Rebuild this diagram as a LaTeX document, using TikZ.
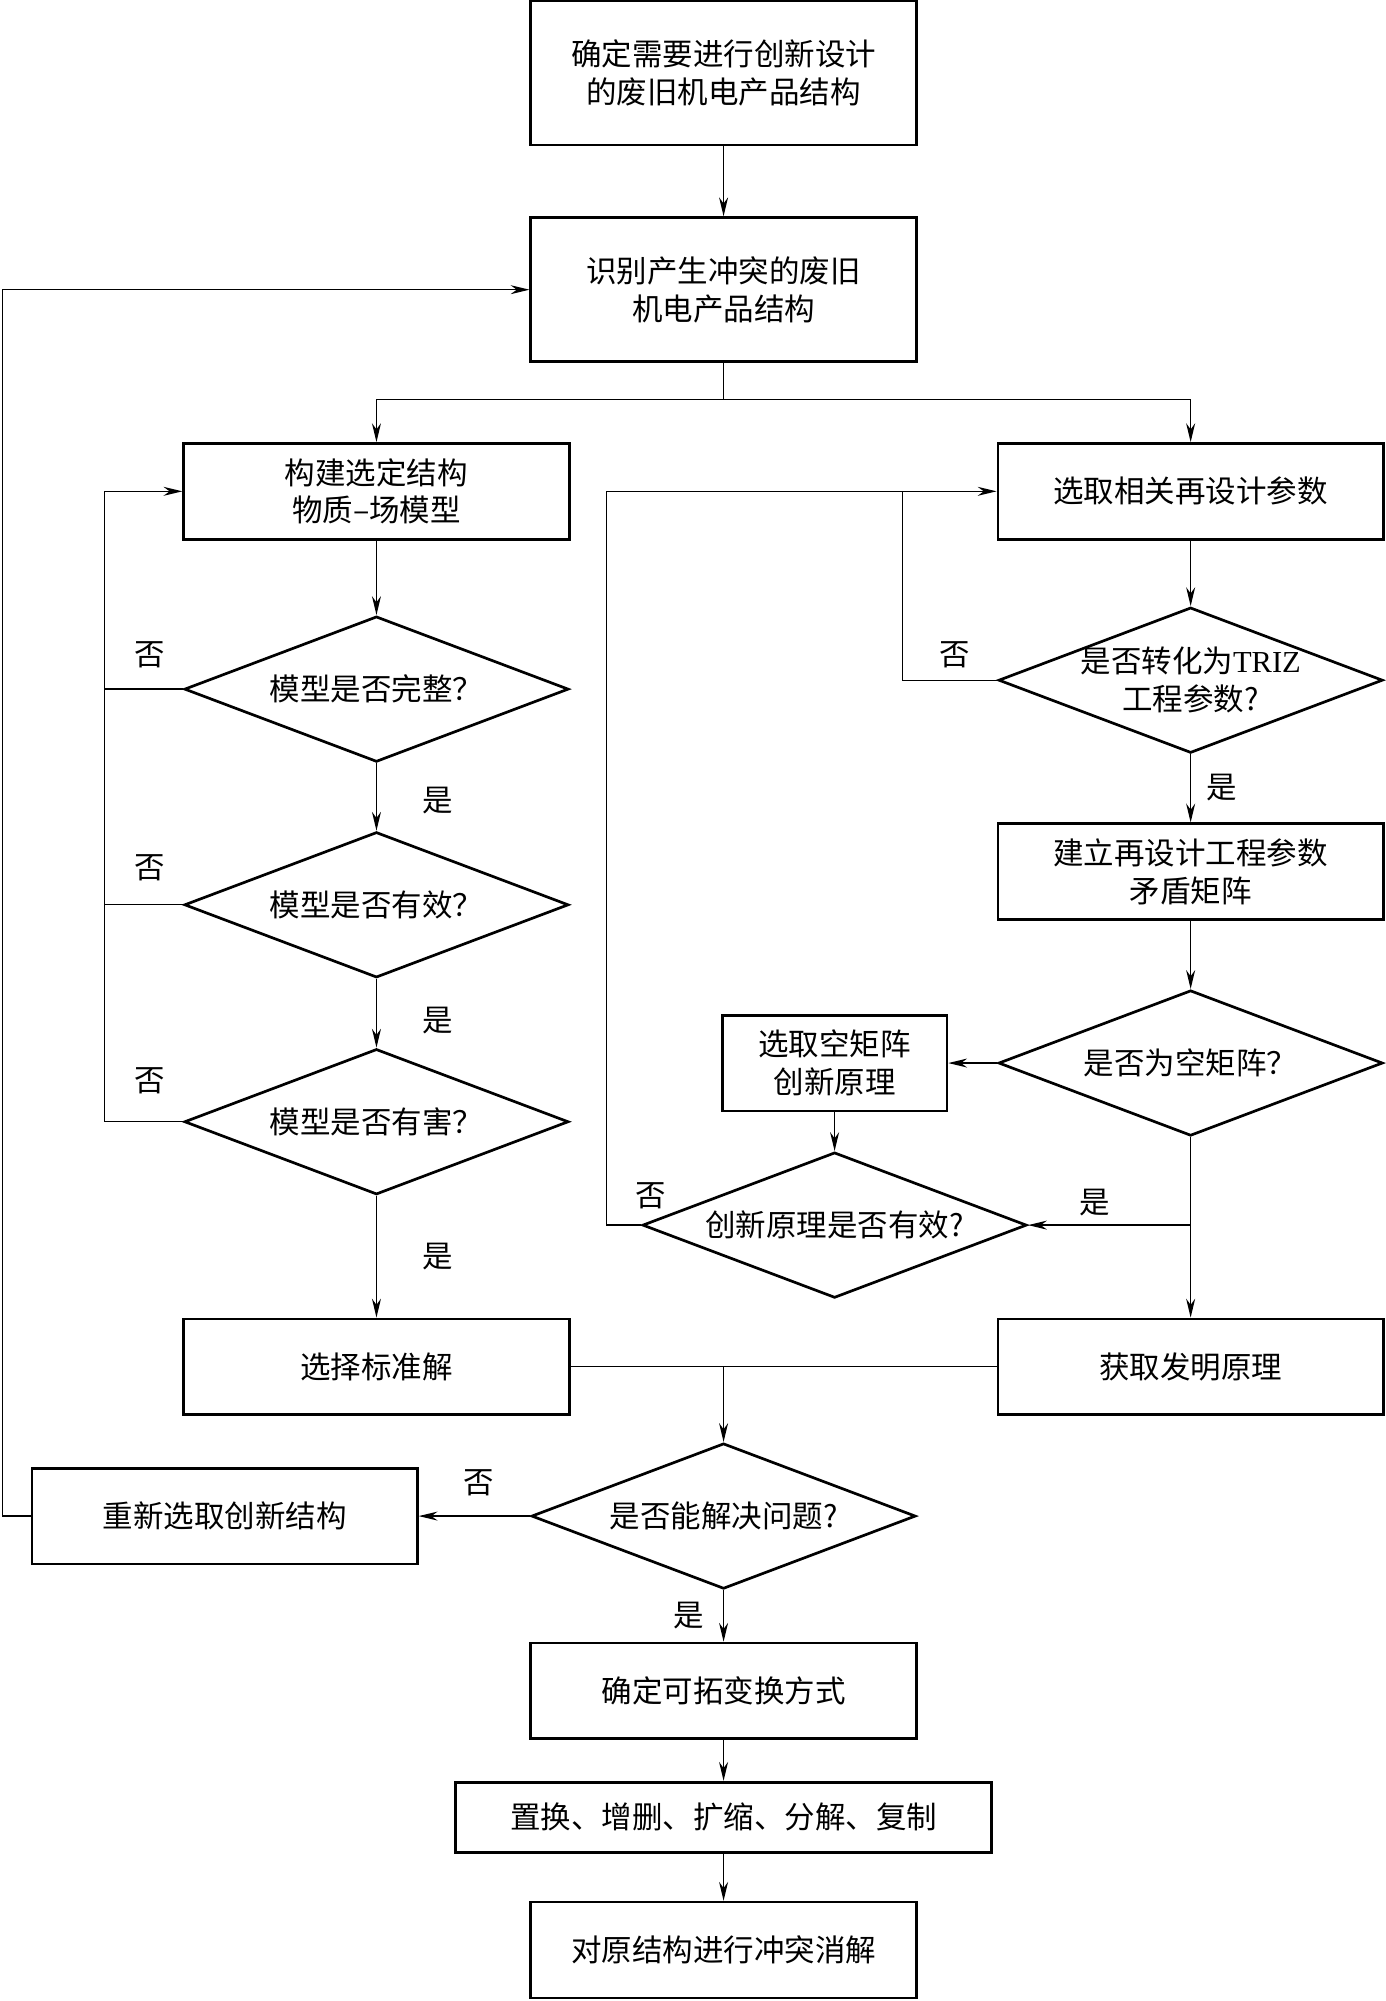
\documentclass[tikz,border=0pt]{standalone}
\usepackage{fontspec}
\setmainfont{Liberation Serif}
\newfontfamily\cjk{Noto Sans CJK SC}
\usetikzlibrary{shapes.geometric,arrows.meta}
\tikzset{
  txt/.style={font=\cjk\fontsize{17}{21}\selectfont},
  box/.style={txt, draw, line width=1.5pt, align=center, minimum width=7.55cm, minimum height=1.875cm},
  tallbox/.style={box, minimum height=2.825cm},
  decision/.style={txt, diamond, draw, line width=1.5pt, align=center, aspect=2.64,
    minimum width=7.525cm, minimum height=2.85cm, inner sep=0pt},
  line/.style={line width=0.75pt},
  link/.style={line, -{Stealth[length=10.5pt,width=5pt]}}
}
\begin{document}
\begin{tikzpicture}[x=0.025cm,y=-0.025cm]
        \useasboundingbox (0,0) rectangle (1086,1568);

        % main column
        \node[tallbox] (top) at (567,57) {确定需要进行创新设计\\的废旧机电产品结构};
        \node[tallbox] (ident) at (567,227) {识别产生冲突的废旧\\机电产品结构};

        % left column
        \node[box] (model) at (295,385) {构建选定结构\\物质–场模型};
        \node[decision] (dfull) at (295,540) {模型是否完整？};
        \node[decision] (dvalid) at (295,709) {模型是否有效？};
        \node[decision] (dharm) at (295,879) {模型是否有害？};
        \node[box] (stdsol) at (295,1071) {选择标准解};

        % right column
        \node[box] (param) at (933,385) {选取相关再设计参数};
        \node[decision, inner ysep=-3pt] (dtriz) at (933,533) {是否转化为{\rmfamily TRIZ}\\工程参数?};
        \node[box] (matrix) at (933,683) {建立再设计工程参数\\矛盾矩阵};
        \node[decision] (dempty) at (933,833) {是否为空矩阵？};
        \node[box, minimum width=4.4cm] (emptyp) at (654,833) {选取空矩阵\\创新原理};
        \node[decision] (dprin) at (654,960) {创新原理是否有效?};
        \node[box] (invent) at (933,1071) {获取发明原理};

        % bottom
        \node[decision] (dsolve) at (567,1188) {是否能解决问题?};
        \node[box] (reselect) at (176,1188) {重新选取创新结构};
        \node[box] (ext) at (567,1325) {确定可拓变换方式};
        \node[box, minimum width=10.5cm, minimum height=1.375cm] (ops) at (567,1424) {置换、增删、扩缩、分解、复制};
        \node[box] (resolve) at (567,1528) {对原结构进行冲突消解};

        \coordinate (fork) at (567,313);
        \coordinate (lx) at (82,0);
        \coordinate (tx) at (707,0);
        \coordinate (rx) at (475,0);
        \coordinate (fx) at (2,0);

        \draw[link] (top) -- (ident);
        \draw[line] (ident.south) -- (fork);
        \draw[link] (fork) -| (model.north);
        \draw[link] (fork) -| (param.north);

        \draw[link] (model) -- (dfull);
        \draw[link] (dfull) -- (dvalid);
        \draw[link] (dvalid) -- (dharm);
        \draw[link] (dharm) -- (stdsol);
        \draw[line] (dfull.west) -- (dfull.west -| lx);
        \draw[line] (dvalid.west) -- (dvalid.west -| lx);
        \draw[link] (dharm.west) -- (dharm.west -| lx) |- (model.west);

        \draw[link] (param) -- (dtriz);
        \draw[link] (dtriz) -- (matrix);
        \draw[link] (matrix) -- (dempty);
        \draw[link] (dempty.west) -- (emptyp.east);
        \draw[link] (emptyp) -- (dprin);
        \draw[link] (dempty.south) -- (invent.north);
        \draw[link] (dempty.south |- dprin.east) -- (dprin.east);
        \draw[line] (dtriz.west) -- (dtriz.west -| tx) -- (tx |- param.west);
        \draw[link] (dprin.west) -- (dprin.west -| rx) |- (param.west);

        \draw[line] (stdsol.east) -- (invent.west);
        \draw[link] (stdsol.east -| dsolve.north) -- (dsolve.north);
        \draw[link] (dsolve.west) -- (reselect.east);
        \draw[link] (reselect.west) -- (reselect.west -| fx) |- (ident.west);
        \draw[link] (dsolve) -- (ext);
        \draw[link] (ext) -- (ops);
        \draw[link] (ops) -- (resolve);

        \node[txt] (n1) at (117,513) {否};
        \node[txt] (n2) at (117,680) {否};
        \node[txt] (n3) at (117,847) {否};
        \node[txt] (y1) at (343,627) {是};
        \node[txt] (y2) at (343,800) {是};
        \node[txt] (y3) at (343,985) {是};
        \node[txt] (n4) at (748,513) {否};
        \node[txt] (y4) at (957,617) {是};
        \node[txt] (n5) at (510,937) {否};
        \node[txt] (y5) at (858,942) {是};
        \node[txt] (n6) at (375,1162) {否};
        \node[txt] (y6) at (540,1266) {是};
\end{tikzpicture}
\end{document}
